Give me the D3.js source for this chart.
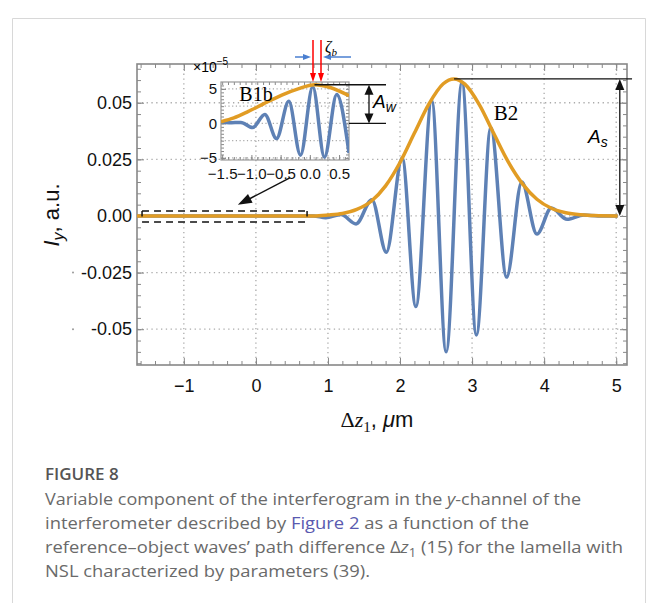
<!DOCTYPE html>
<html>
<head>
<meta charset="utf-8">
<script src="https://cdn.jsdelivr.net/npm/d3@7"></script>
<style>
body { margin: 0; background: #fff; }
svg { display: block; }
</style>
</head>
<body>
<div id="chart"></div>
<script>
// main curve: extrema (dz1 in um, Iy in a.u.)
var waveX = [-1.65, 0.80, 0.97, 1.18, 1.39, 1.61, 1.81, 2.03, 2.22, 2.44, 2.64, 2.86, 3.06, 3.26, 3.48, 3.69, 3.90, 4.10, 4.32, 4.55, 4.75, 5.02];
var waveY = [0, 0, -0.0008, 0.0006, -0.0035, 0.0072, -0.0160, 0.0256, -0.0400, 0.0510, -0.0600, 0.0590, -0.0526, 0.0390, -0.0270, 0.0150, -0.0080, 0.0035, -0.0015, 0.0004, 0, 0];
// envelope B2
var envX = [-1.65, 0.80, 1.00, 1.20, 1.40, 1.60, 1.80, 2.00, 2.20, 2.40, 2.60, 2.75, 2.90, 3.10, 3.30, 3.50, 3.70, 3.90, 4.10, 4.30, 4.50, 4.70, 5.02];
var envY = [0, 0, 0.0004, 0.0011, 0.0029, 0.0065, 0.0133, 0.0236, 0.0366, 0.0494, 0.0584, 0.0605, 0.0582, 0.0492, 0.0365, 0.0240, 0.0142, 0.0074, 0.0034, 0.0014, 0.0005, 0.0002, 0];
// inset B1b (x10^-5)
var insetWaveX = [-1.52, -1.38, -1.18, -0.98, -0.77, -0.57, -0.36, -0.16, 0.05, 0.25, 0.46, 0.67];
var insetWaveY = [0.25, 0.1, 0.15, -0.6, 1.3, -2.2, 3.2, -4.6, 5.3, -4.9, 4.2, -4.3];
var insetEnvX = [-1.52, -1.30, -1.06, -0.80, -0.48, -0.20, 0.08, 0.35, 0.67];
var insetEnvY = [0.25, 0.8, 1.7, 2.8, 4.1, 5.0, 5.6, 5.2, 4.0];

var xTicks = [-1, 0, 1, 2, 3, 4, 5];
var yTicks = [-0.05, -0.025, 0, 0.025, 0.05];
var yTickLabels = ["-0.05", "-0.025", "0.00", "0.025", "0.05"];
var insetXTicks = [-1.5, -1.0, -0.5, 0.0, 0.5];
var insetXTickLabels = ["\u22121.5", "\u22121.0", "\u22120.5", "0.0", "0.5"];
var insetYTicks = [-5, 0, 5];
var insetYTickLabels = ["\u22125", "0", "5"];
var insetGrid = [-5, -2.5, 0, 2.5, 5];

var blue = "#5E81B5", orange = "#E19C24", frameCol = "#888";

var svg = d3.select("#chart").append("svg")
    .attr("width", 656)
    .attr("height", 603);

// card border
svg.append("path")
    .attr("d", "M12.5,603V18.5H645.5V603")
    .attr("fill", "none")
    .attr("stroke", "#d8d8d8");

var x = d3.scaleLinear().domain([-1.65, 5.15]).range([137, 627]);
var y = d3.scaleLinear().domain([-0.0658, 0.0671]).range([365, 64]);
var ix = d3.scaleLinear().domain([-1.52, 0.67]).range([221, 349]);
var iy = d3.scaleLinear().domain([-5.3, 6.0]).range([160, 82]);

var defs = svg.append("defs");
defs.append("clipPath").attr("id", "clipMain").append("rect")
    .attr("x", 137).attr("y", 64).attr("width", 490).attr("height", 301);
defs.append("clipPath").attr("id", "clipInset").append("rect")
    .attr("x", 221).attr("y", 82).attr("width", 128).attr("height", 78);

// grid
var grid = svg.append("g")
    .attr("stroke", "#aaa")
    .attr("stroke-width", 1.3)
    .attr("stroke-dasharray", "1.3,3.5");
grid.selectAll(".gx").data(xTicks).enter().append("line")
    .attr("x1", function (d) { return x(d); })
    .attr("x2", function (d) { return x(d); })
    .attr("y1", 64).attr("y2", 365);
grid.selectAll(".gy").data(yTicks).enter().append("line")
    .attr("y1", function (d) { return y(d); })
    .attr("y2", function (d) { return y(d); })
    .attr("x1", 137).attr("x2", 627);

// frame ticks
var minorX = d3.range(-16, 51, 2).map(function (v) { return v / 10; });
var minorY = d3.range(-13, 14).map(function (v) { return v * 0.005; });

function styleAxis(g) {
    g.select(".domain").remove();
    g.selectAll("line").attr("stroke", frameCol).attr("stroke-width", 1);
}
svg.append("g").attr("transform", "translate(0,365)")
    .call(d3.axisBottom(x).tickValues(minorX).tickSize(-4).tickFormat("")).call(styleAxis);
svg.append("g").attr("transform", "translate(0,64)")
    .call(d3.axisTop(x).tickValues(minorX).tickSize(-4).tickFormat("")).call(styleAxis);
svg.append("g").attr("transform", "translate(137,0)")
    .call(d3.axisLeft(y).tickValues(minorY).tickSize(-4).tickFormat("")).call(styleAxis);
svg.append("g").attr("transform", "translate(627,0)")
    .call(d3.axisRight(y).tickValues(minorY).tickSize(-4).tickFormat("")).call(styleAxis);
svg.append("g").attr("transform", "translate(0,64)")
    .call(d3.axisTop(x).tickValues(xTicks).tickSize(-7).tickFormat("")).call(styleAxis);
svg.append("g").attr("transform", "translate(627,0)")
    .call(d3.axisRight(y).tickValues(yTicks).tickSize(-7).tickFormat("")).call(styleAxis);

var xAxis = svg.append("g").attr("transform", "translate(0,365)")
    .call(d3.axisBottom(x).tickValues(xTicks).tickSize(-7).tickPadding(14).tickFormat(d3.format("d")))
    .call(styleAxis);
xAxis.attr("font-family", "'Liberation Sans', Arial, sans-serif").attr("font-size", 18);
xAxis.selectAll("text").attr("fill", "#111");

var yAxis = svg.append("g").attr("transform", "translate(137,0)")
    .call(d3.axisLeft(y).tickValues(yTicks).tickSize(-7).tickPadding(5)
        .tickFormat(function (d, i) { return yTickLabels[i]; }))
    .call(styleAxis);
yAxis.attr("font-family", "'Liberation Sans', Arial, sans-serif").attr("font-size", 18);
yAxis.selectAll("text").attr("fill", "#111");

svg.append("rect")
    .attr("x", 137).attr("y", 64).attr("width", 490).attr("height", 301)
    .attr("fill", "none").attr("stroke", frameCol).attr("stroke-width", 1.6);

// stray dots left of the tick labels
svg.selectAll(".dot").data([-0.025, -0.05]).enter().append("circle")
    .attr("cx", 73).attr("cy", function (d) { return y(d); })
    .attr("r", 1).attr("fill", "#999");

// main curves
var line = d3.line()
    .x(function (d) { return x(d[0]); })
    .y(function (d) { return y(d[1]); })
    .curve(d3.curveMonotoneX);
var plot = svg.append("g").attr("clip-path", "url(#clipMain)");
plot.append("path")
    .attr("d", line(d3.zip(waveX, waveY)))
    .attr("fill", "none").attr("stroke", blue).attr("stroke-width", 3.5);
plot.append("path")
    .attr("d", line(d3.zip(envX, envY)))
    .attr("fill", "none").attr("stroke", orange).attr("stroke-width", 3.5);

// inset grid, frame, ticks
var ig = svg.append("g")
    .attr("stroke", "#aaa")
    .attr("stroke-width", 1.2)
    .attr("stroke-dasharray", "1.2,2.5");
ig.selectAll("line").data(insetGrid).enter().append("line")
    .attr("x1", 221).attr("x2", 349)
    .attr("y1", function (d) { return iy(d); })
    .attr("y2", function (d) { return iy(d); });

var insetMinorX = d3.range(-15, 7).map(function (v) { return v / 10; });
var insetMinorY = d3.range(-10, 12).map(function (v) { return v / 2; });
svg.append("g").attr("transform", "translate(0,160)")
    .call(d3.axisBottom(ix).tickValues(insetMinorX).tickSize(-3).tickFormat("")).call(styleAxis);
svg.append("g").attr("transform", "translate(0,82)")
    .call(d3.axisTop(ix).tickValues(insetMinorX).tickSize(-3).tickFormat("")).call(styleAxis);
svg.append("g").attr("transform", "translate(221,0)")
    .call(d3.axisLeft(iy).tickValues(insetMinorY).tickSize(-3).tickFormat("")).call(styleAxis);
svg.append("g").attr("transform", "translate(349,0)")
    .call(d3.axisRight(iy).tickValues(insetMinorY).tickSize(-3).tickFormat("")).call(styleAxis);

var ixAxis = svg.append("g").attr("transform", "translate(0,160)")
    .call(d3.axisBottom(ix).tickValues(insetXTicks).tickSize(-5).tickPadding(8)
        .tickFormat(function (d, i) { return insetXTickLabels[i]; }))
    .call(styleAxis);
ixAxis.attr("font-family", "'Liberation Sans', Arial, sans-serif").attr("font-size", 15);
ixAxis.selectAll("text").attr("fill", "#111");
var iyAxis = svg.append("g").attr("transform", "translate(221,0)")
    .call(d3.axisLeft(iy).tickValues(insetYTicks).tickSize(-5).tickPadding(4)
        .tickFormat(function (d, i) { return insetYTickLabels[i]; }))
    .call(styleAxis);
iyAxis.attr("font-family", "'Liberation Sans', Arial, sans-serif").attr("font-size", 15);
iyAxis.selectAll("text").attr("fill", "#111");

svg.append("rect")
    .attr("x", 221).attr("y", 82).attr("width", 128).attr("height", 78)
    .attr("fill", "none").attr("stroke", "#999").attr("stroke-width", 1.2);

var iline = d3.line()
    .x(function (d) { return ix(d[0]); })
    .y(function (d) { return iy(d[1]); })
    .curve(d3.curveMonotoneX);
var inset = svg.append("g").attr("clip-path", "url(#clipInset)");
inset.append("path")
    .attr("d", iline(d3.zip(insetWaveX, insetWaveY)))
    .attr("fill", "none").attr("stroke", blue).attr("stroke-width", 3.5);
inset.append("path")
    .attr("d", iline(d3.zip(insetEnvX, insetEnvY)))
    .attr("fill", "none").attr("stroke", orange).attr("stroke-width", 3.5);

svg.append("text")
    .attr("x", 193).attr("y", 72)
    .attr("font-family", "'Liberation Sans', Arial, sans-serif")
    .attr("font-size", 14)
    .text("\u00d710")
    .append("tspan").attr("dy", -7).attr("font-size", 10).text("\u22125");

// annotations
function head(g, x1, y1, x2, y2, len, wid, col) {
    var a = Math.atan2(y2 - y1, x2 - x1);
    var bx = x2 - len * Math.cos(a), by = y2 - len * Math.sin(a);
    var px = Math.sin(a) * wid / 2, py = -Math.cos(a) * wid / 2;
    g.append("path")
        .attr("d", "M" + x2 + "," + y2 + "L" + (bx + px) + "," + (by + py) + "L" + (bx - px) + "," + (by - py) + "Z")
        .attr("fill", col);
}
function arrow(g, x1, y1, x2, y2, len, wid, col, sw) {
    var a = Math.atan2(y2 - y1, x2 - x1);
    g.append("line")
        .attr("x1", x1).attr("y1", y1)
        .attr("x2", x2 - len * 0.8 * Math.cos(a)).attr("y2", y2 - len * 0.8 * Math.sin(a))
        .attr("stroke", col).attr("stroke-width", sw);
    head(g, x1, y1, x2, y2, len, wid, col);
}

var ann = svg.append("g");

// dashed box around the flat part
var boxL = x(-1.58), boxR = x(0.71), boxT = y(0.0022), boxB = y(-0.0027);
ann.selectAll(".dash").data([boxT, boxB]).enter().append("line")
    .attr("x1", boxL).attr("x2", boxR)
    .attr("y1", function (d) { return d; }).attr("y2", function (d) { return d; })
    .attr("stroke", "#111").attr("stroke-width", 1.5).attr("stroke-dasharray", "7,5");
ann.selectAll(".cap").data([boxL, boxR]).enter().append("line")
    .attr("x1", function (d) { return d; }).attr("x2", function (d) { return d; })
    .attr("y1", boxT).attr("y2", y(-0.0002))
    .attr("stroke", "#111").attr("stroke-width", 1.5);
arrow(ann, x(0.47), y(0.0168), x(-0.25), y(0.0049), 14, 10, "#111", 1.5);

// A_s
var peakX = x(2.75), peakY = y(0.0605);
ann.append("line").attr("x1", peakX).attr("x2", x(5.22)).attr("y1", peakY).attr("y2", peakY)
    .attr("stroke", "#111").attr("stroke-width", 1.3);
arrow(ann, x(5.05), (peakY + y(0)) / 2, x(5.05), peakY, 11, 9, "#111", 1.3);
arrow(ann, x(5.05), (peakY + y(0)) / 2, x(5.05), y(0), 11, 9, "#111", 1.3);

// A_w
var wTop = iy(5.6), wBot = iy(0), wRight = 386, wX = 369;
ann.append("line").attr("x1", ix(0.08)).attr("x2", wRight).attr("y1", wTop).attr("y2", wTop)
    .attr("stroke", "#111").attr("stroke-width", 1.3);
ann.append("line").attr("x1", 349).attr("x2", wRight).attr("y1", wBot).attr("y2", wBot)
    .attr("stroke", "#111").attr("stroke-width", 1.3);
arrow(ann, wX, (wTop + wBot) / 2, wX, wTop, 10, 9, "#111", 1.3);
arrow(ann, wX, (wTop + wBot) / 2, wX, wBot, 10, 9, "#111", 1.3);

// zeta_b arrows
arrow(ann, 313, 40, 313, 82, 9, 6, "#f00", 1.5);
arrow(ann, 321, 40, 321, 82, 9, 6, "#f00", 1.5);
arrow(ann, 295, 57, 311, 57, 8, 6, "#4a7fd0", 1.5);
arrow(ann, 351, 57, 323, 57, 8, 6, "#4a7fd0", 1.5);

var zt = ann.append("text")
    .attr("x", 325).attr("y", 52)
    .attr("font-family", "'Liberation Serif', 'Times New Roman', serif")
    .attr("font-size", 16).attr("font-style", "italic");
zt.append("tspan").text("\u03b6");
zt.append("tspan").attr("dy", 4).attr("font-size", 11).text("b");

function labelA(xp, yp, sub) {
    var t = ann.append("text")
        .attr("x", xp).attr("y", yp)
        .attr("font-family", "'Liberation Sans', Arial, sans-serif")
        .attr("font-size", 19).attr("font-style", "italic");
    t.append("tspan").text("A");
    t.append("tspan").attr("dy", 4).attr("font-size", 14).text(sub);
}
labelA(373, 108, "w");
labelA(588, 143, "s");

ann.append("text").attr("x", 506).attr("y", 120)
    .attr("text-anchor", "middle")
    .attr("font-family", "'Liberation Serif', 'Times New Roman', serif")
    .attr("font-size", 21).text("B2");
ann.append("text").attr("x", 256).attr("y", 101)
    .attr("text-anchor", "middle")
    .attr("font-family", "'Liberation Serif', 'Times New Roman', serif")
    .attr("font-size", 20).text("B1b");

// axis titles
var yt = svg.append("text")
    .attr("transform", "translate(59,215) rotate(-90)")
    .attr("text-anchor", "middle")
    .attr("font-family", "'Liberation Sans', Arial, sans-serif")
    .attr("font-size", 22).attr("fill", "#111");
yt.append("tspan").attr("font-style", "italic").text("I");
yt.append("tspan").attr("font-style", "italic").attr("font-size", 16).attr("dy", 5).text("y");
yt.append("tspan").attr("dy", -5).text(", a.u.");

var xt = svg.append("text")
    .attr("x", 377).attr("y", 427)
    .attr("text-anchor", "middle")
    .attr("font-size", 22).attr("fill", "#111");
xt.append("tspan").attr("font-family", "'Liberation Serif', serif").text("\u0394");
xt.append("tspan").attr("font-family", "'Liberation Serif', serif").attr("font-style", "italic").text("z");
xt.append("tspan").attr("font-family", "'Liberation Serif', serif").attr("font-size", 15).attr("dy", 5).text("1");
xt.append("tspan").attr("font-family", "'Liberation Sans', Arial, sans-serif").attr("dy", -5).text(", ");
xt.append("tspan").attr("font-family", "'Liberation Sans', Arial, sans-serif").attr("font-style", "italic").text("\u03bc");
xt.append("tspan").attr("font-family", "'Liberation Sans', Arial, sans-serif").text("m");

// caption
var cap = svg.append("g")
    .attr("font-family", "'Open Sans', 'Noto Sans', sans-serif")
    .attr("font-size", 17);
cap.append("text").attr("x", 45).attr("y", 480)
    .attr("font-weight", 600).attr("fill", "#555").text("FIGURE 8");

var capLines = [
    { y: 505, w: 536, parts: [["Variable component of the interferogram in the "], ["y", "i"], ["-channel of the"]] },
    { y: 529, w: 484, parts: [["interferometer described by "], ["Figure 2", "link"], [" as a function of the"]] },
    { y: 553, w: 578, parts: [["reference\u2013object waves\u2019 path difference \u0394"], ["z", "i"], ["1", "sub"], [" (15) for the lamella with", "after"]] },
    { y: 577, w: 325, parts: [["NSL characterized by parameters (39)."]] }
];
capLines.forEach(function (l) {
    var t = cap.append("text").attr("x", 45).attr("y", l.y)
        .attr("fill", "#6a6a6a")
        .attr("textLength", l.w).attr("lengthAdjust", "spacingAndGlyphs");
    l.parts.forEach(function (p) {
        var s = t.append("tspan").text(p[0]);
        if (p[1] === "i") s.attr("font-style", "italic");
        if (p[1] === "link") s.attr("fill", "#5a5ab0");
        if (p[1] === "sub") s.attr("font-size", 12).attr("dy", 4);
        if (p[1] === "after") s.attr("dy", -4);
    });
});
</script>
</body>
</html>
